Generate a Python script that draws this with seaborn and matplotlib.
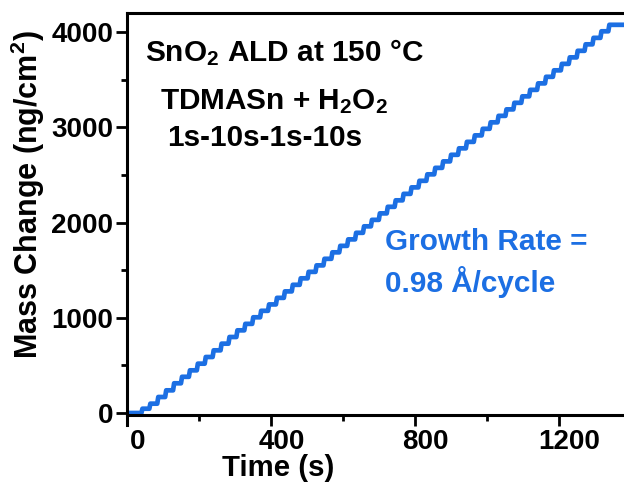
import matplotlib
matplotlib.use("Agg")
import matplotlib.pyplot as plt
import matplotlib.transforms as mtransforms
from matplotlib.ticker import MultipleLocator
import seaborn as sns
import pandas as pd

# ---- data ----
# start time (s) of each ALD cycle (TDMASn pulse)
cycle_start = [40, 62, 84, 106, 128, 150, 172, 194, 216, 238,
               260, 282, 304, 326, 348, 370, 392, 414, 436, 458,
               480, 502, 524, 546, 568, 590, 612, 634, 656, 678,
               700, 722, 744, 766, 788, 810, 832, 854, 876, 898,
               920, 942, 964, 986, 1008, 1030, 1052, 1074, 1096, 1118,
               1140, 1162, 1184, 1206, 1228, 1250, 1272, 1294, 1316, 1338]
# mass level (ng/cm^2) reached after each cycle
cycle_mass = [45, 98, 168, 238, 312, 380, 448, 518, 588, 658,
              728, 798, 868, 936, 1005, 1073, 1140, 1209, 1277, 1346,
              1414, 1482, 1550, 1619, 1687, 1755, 1823, 1892, 1960, 2028,
              2096, 2165, 2233, 2301, 2369, 2438, 2506, 2574, 2642, 2711,
              2779, 2847, 2915, 2984, 3052, 3120, 3188, 3257, 3325, 3393,
              3461, 3530, 3598, 3666, 3734, 3803, 3871, 3939, 4008, 4076]
t_end = 1385
x_ticks = [0, 400, 800, 1200]
y_ticks = [0, 1000, 2000, 3000, 4000]

# build staircase trace
ts, ms = [0.0], [0.0]
prev = 0.0
for t0, m in zip(cycle_start, cycle_mass):
    ts += [t0, t0 + 3]
    ms += [prev, m]
    prev = m
ts.append(t_end)
ms.append(prev)
df = pd.DataFrame({"Time (s)": ts, "Mass": ms})

sns.set_theme(style="ticks")
plt.rcParams["font.family"] = ["Liberation Sans", "DejaVu Sans"]
plt.rcParams["font.weight"] = "bold"
plt.rcParams["text.color"] = "black"
plt.rcParams["axes.labelcolor"] = "black"
plt.rcParams["xtick.color"] = "black"
plt.rcParams["ytick.color"] = "black"
plt.rcParams["mathtext.fontset"] = "custom"
plt.rcParams["mathtext.rm"] = "Liberation Sans:bold"
plt.rcParams["mathtext.bf"] = "Liberation Sans:bold"
plt.rcParams["mathtext.it"] = "Liberation Sans:bold"

fig = plt.figure(figsize=(6.24, 4.82), dpi=100)
ax = fig.add_axes([127 / 624, 57 / 482, 500 / 624, 412 / 482])

blue = "#1c6fe3"
sns.lineplot(data=df, x="Time (s)", y="Mass", sort=False, estimator=None,
             color=blue, lw=3.4, ax=ax)

ax.set_xlim(0, 1390)
ax.set_ylim(-126, 4200)

ax.spines["right"].set_visible(False)
for s in ["left", "top", "bottom"]:
    ax.spines[s].set_linewidth(2.2)
    ax.spines[s].set_color("black")
ax.spines["bottom"].set_position(("data", -21))

ax.set_xticks(x_ticks)
ax.set_yticks(y_ticks)
ax.xaxis.set_minor_locator(MultipleLocator(200))
ax.yaxis.set_minor_locator(MultipleLocator(500))
ax.tick_params(axis="both", which="major", length=8, width=2, labelsize=20,
               color="black", labelcolor="black", pad=2)
ax.tick_params(axis="both", which="minor", length=4.5, width=2, color="black")
for lab in ax.get_xticklabels() + ax.get_yticklabels():
    lab.set_fontweight("bold")
offset = mtransforms.ScaledTranslation(11 / 100, 0, fig.dpi_scale_trans)
for lab in ax.get_xticklabels():
    lab.set_transform(lab.get_transform() + offset)

ax.set_xlabel("")
ax.set_ylabel("")
fig.text(278 / 624, 1 - 468 / 482, "Time (s)", ha="center", va="center",
         fontsize=21.2, fontweight="bold")
fig.text(28 / 624, 1 - 195 / 482, "Mass Change (ng/cm$^{2}$)", ha="center",
         va="center", rotation=90, fontsize=22, fontweight="bold")

fs = 21.4
fig.text(145 / 624, 1 - 53 / 482, "SnO$_{2}$ ALD at 150 °C", ha="left",
         va="center", fontsize=fs, fontweight="bold")
fig.text(160 / 624, 1 - 102 / 482, "TDMASn + H$_{2}$O$_{2}$", ha="left",
         va="center", fontsize=fs, fontweight="bold")
fig.text(167 / 624, 1 - 138 / 482, "1s-10s-1s-10s", ha="left",
         va="center", fontsize=fs, fontweight="bold")
fig.text(385 / 624, 1 - 242 / 482, "Growth Rate =", ha="left",
         va="center", fontsize=fs, fontweight="bold", color=blue)
fig.text(385 / 624, 1 - 282 / 482, "0.98 Å/cycle", ha="left",
         va="center", fontsize=fs, fontweight="bold", color=blue)

fig.savefig("out.png", dpi=100)
